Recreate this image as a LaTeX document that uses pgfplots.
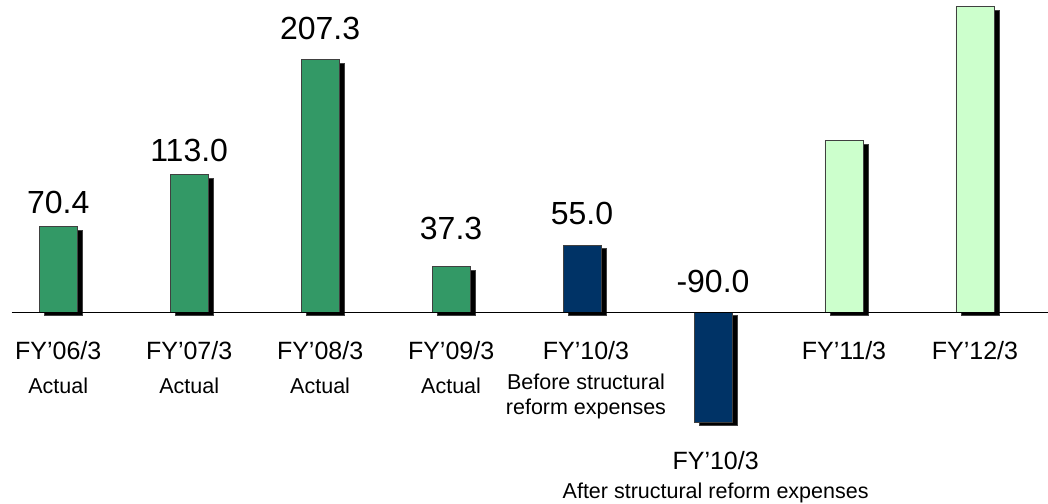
\documentclass[border=0pt]{standalone}
\usepackage{fontspec}
\setmainfont{Liberation Sans}
\usepackage{pgfplots}
\pgfplotsset{compat=1.18}
\usetikzlibrary{shadows}

\definecolor{actgreen}{HTML}{339966}
\definecolor{navy}{HTML}{003366}
\definecolor{paleg}{HTML}{CCFFCC}

\pgfplotsset{
  barshadow/.style={ybar, bar shift=0pt, draw=black!75, line width=0.7pt,
    drop shadow={shadow xshift=5.5pt, shadow yshift=-3.5pt, fill=black, opacity=1}},
  lbl/.style={only marks, mark=none, nodes near coords, point meta=explicit symbolic,
    nodes near coords align={center},
    every node near coord/.append style={anchor=base, inner sep=0pt, text=black, font=#1}},
}

\begin{document}
\begin{tikzpicture}
\begin{axis}[
    scale only axis, width=1048pt, height=504pt,
    xmin=-0.4444, xmax=7.558, ymin=-157.4, ymax=256.4,
    hide axis, clip=false, bar width=38pt,
  ]
  % bars
  \addplot[barshadow, fill=actgreen] coordinates {(0,70.4) (1,113.0) (2,207.3) (3,37.3)};
  \addplot[barshadow, fill=navy] coordinates {(4,55.0) (5,-90.0)};
  \addplot[barshadow, fill=paleg] coordinates {(6,141) (7,251)};
  % baseline
  \addplot[black, line width=1.3pt] coordinates {(-0.355,0) (7.56,0)};

  % value labels
  \addplot[lbl={\fontsize{32}{38}\selectfont}] coordinates {
    (0,80.7) [70.4] (1,123.6) [113.0] (2,224.1) [207.3] (3,59.9) [37.3]
    (4,71.7) [55.0] (5,16.1) [-90.0]};

  % category labels
  \addplot[lbl={\fontsize{25}{30}\selectfont}] coordinates {
    (0,-38.6) [FY’06/3] (1,-38.6) [FY’07/3] (2,-38.6) [FY’08/3] (3,-38.6) [FY’09/3]
    (4.03,-38.6) [FY’10/3] (6,-38.6) [FY’11/3] (7,-38.6) [FY’12/3]
    (5.02,-128.9) [FY’10/3]};
  \addplot[lbl={\fontsize{21.5}{26}\selectfont}] coordinates {
    (0,-66.5) [Actual] (1,-66.5) [Actual] (2,-66.5) [Actual] (3,-66.5) [Actual]
    (4.03,-63.2) [Before structural] (4.03,-84.3) [reform expenses]
    (5.02,-152.5) [After structural reform expenses]};
\end{axis}
\pgfresetboundingbox
\path (current axis.south west) rectangle (current axis.north east);
\end{tikzpicture}
\end{document}
